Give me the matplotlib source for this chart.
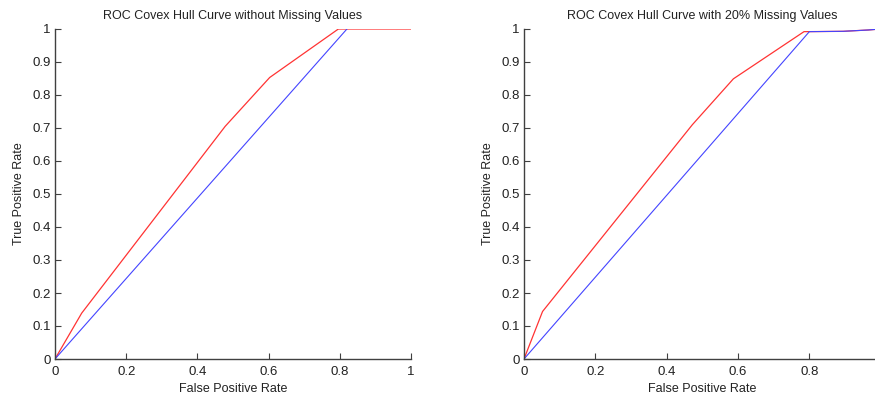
import matplotlib
matplotlib.use("Agg")
import matplotlib.pyplot as plt

plt.rcParams['font.family'] = ['Liberation Sans', 'DejaVu Sans']

# Left panel: without missing values
fpr_hull_a = [0.0, 0.075, 0.478, 0.603, 0.796, 1.0]
tpr_hull_a = [0.0, 0.139, 0.705, 0.853, 1.0, 1.0]
fpr_diag_a = [0.0, 0.82]
tpr_diag_a = [0.0, 1.0]

# Right panel: with 20% missing values
fpr_hull_b = [0.0, 0.052, 0.472, 0.587, 0.785, 0.80, 0.895, 0.965, 1.0]
tpr_hull_b = [0.0, 0.144, 0.71, 0.849, 0.992, 0.992, 0.993, 0.997, 1.0]
fpr_diag_b = [0.0, 0.80, 0.895, 0.965, 1.0]
tpr_diag_b = [0.0, 0.992, 0.993, 0.997, 1.0]

titles = ["ROC Covex Hull Curve without Missing Values",
          "ROC Covex Hull Curve with 20% Missing Values"]
xticks_a = [0, 0.2, 0.4, 0.6, 0.8, 1]
xticklabels_a = ["0", "0.2", "0.4", "0.6", "0.8", "1"]
xticks_b = [0, 0.2, 0.4, 0.6, 0.8]
xticklabels_b = ["0", "0.2", "0.4", "0.6", "0.8"]
yticks = [0, 0.1, 0.2, 0.3, 0.4, 0.5, 0.6, 0.7, 0.8, 0.9, 1]
yticklabels = ["0", "0.1", "0.2", "0.3", "0.4", "0.5", "0.6", "0.7", "0.8", "0.9", "1"]

fig = plt.figure(figsize=(8.75, 3.98), dpi=100)
W, H = 875, 398
ax1 = fig.add_axes([55 / W, (398 - 359) / H, 356 / W, 330 / H])
ax2 = fig.add_axes([524 / W, (398 - 359) / H, 356.7 / W, 330 / H])

red = '#ff3333'
blue = '#4444ff'
gray = '#404040'

panels = [
    (ax1, fpr_hull_a, tpr_hull_a, fpr_diag_a, tpr_diag_a, titles[0], xticks_a, xticklabels_a),
    (ax2, fpr_hull_b, tpr_hull_b, fpr_diag_b, tpr_diag_b, titles[1], xticks_b, xticklabels_b),
]
for ax, hx, hy, dx, dy, title, xt, xtl in panels:
    ax.plot(hx, hy, color=red, lw=0.9)
    ax.plot(dx, dy, color=blue, lw=0.8)
    ax.set_xlim(0, 1)
    ax.set_ylim(0, 1)
    ax.set_xticks(xt)
    ax.set_xticklabels(xtl)
    ax.set_yticks(yticks)
    ax.set_yticklabels(yticklabels)
    ax.spines['top'].set_visible(False)
    ax.spines['right'].set_visible(False)
    for s in ('left', 'bottom'):
        ax.spines[s].set_color(gray)
        ax.spines[s].set_linewidth(1.0)
    ax.tick_params(direction='in', length=4, width=0.8, colors=gray,
                   labelsize=9.5, labelcolor='#222222', pad=3)
    ax.tick_params(axis='x', pad=5)
    ax.set_title(title, fontsize=9, color='#222222', pad=7)
    ax.set_xlabel("False Positive Rate", fontsize=9, color='#222222', labelpad=4)
    ax.set_ylabel("True Positive Rate", fontsize=9, color='#222222', labelpad=5)
    for lbl in ax.get_xticklabels() + ax.get_yticklabels():
        lbl.set_clip_on(False)

fig.savefig("out.png", dpi=100)
